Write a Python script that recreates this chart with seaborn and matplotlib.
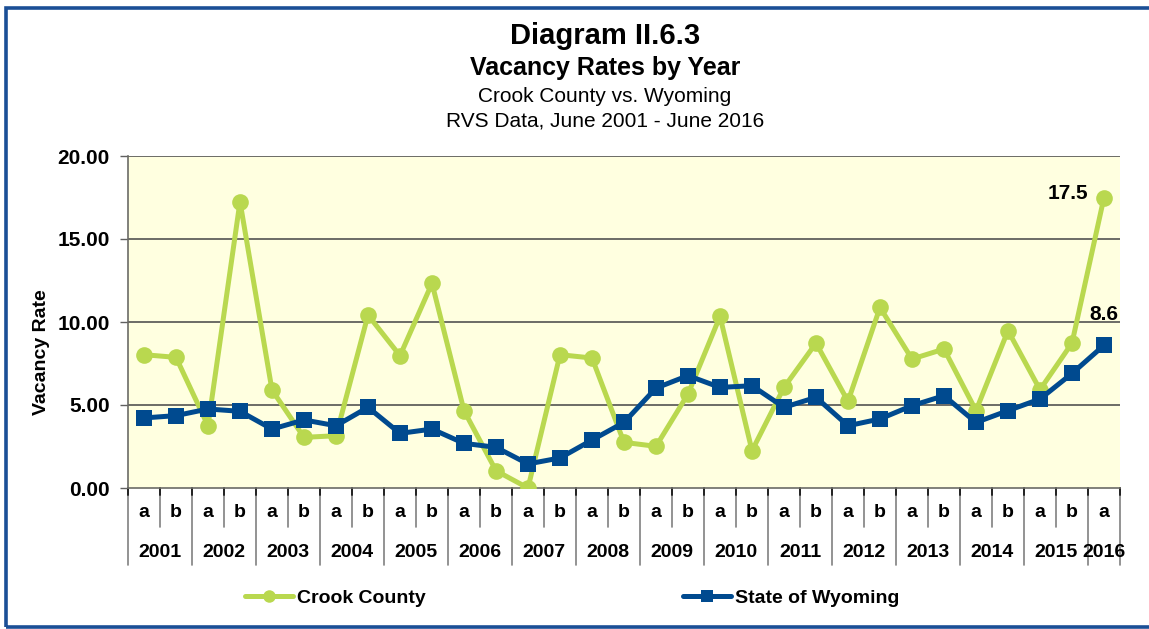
import matplotlib
matplotlib.use("Agg")
import matplotlib.pyplot as plt
import matplotlib.patches as patches
from matplotlib.transforms import blended_transform_factory
import numpy as np
import pandas as pd
import seaborn as sns

years = ["2001", "2002", "2003", "2004", "2005", "2006", "2007", "2008",
         "2009", "2010", "2011", "2012", "2013", "2014", "2015", "2016"]
halves = ["a", "b"] * 15 + ["a"]
crook = [8.03, 7.87, 3.75, 17.25, 5.90, 3.05, 3.15, 10.42, 7.97, 12.33,
         4.66, 1.04, 0.00, 8.03, 7.83, 2.75, 2.51, 5.66, 10.34, 2.25,
         6.06, 8.73, 5.22, 10.88, 7.77, 8.37, 4.66, 9.48, 5.92, 8.73, 17.50]
wyoming = [4.22, 4.36, 4.76, 4.62, 3.55, 4.10, 3.75, 4.86, 3.29, 3.55,
           2.69, 2.45, 1.45, 1.81, 2.89, 3.95, 6.02, 6.77, 6.06, 6.16,
           4.86, 5.46, 3.75, 4.16, 4.96, 5.56, 3.95, 4.66, 5.36, 6.90, 8.60]
yticks = [0, 5, 10, 15, 20]

GREEN = "#B9D84F"
BLUE = "#004A8F"
BORDER = "#1B4F96"

sns.set_theme(style="white")
plt.rcParams['font.family'] = ['Liberation Sans', 'DejaVu Sans']
plt.rcParams['text.color'] = 'black'
plt.rcParams['ytick.color'] = 'black'

df = pd.DataFrame({"idx": np.arange(len(crook)), "crook": crook, "wyoming": wyoming})

fig = plt.figure(figsize=(11.49, 6.29), dpi=100)
W, H = 1149, 629
ax = fig.add_axes([128 / W, 1 - 488 / H, (1120 - 128) / W, (488 - 156) / H])
ax.set_facecolor("#FFFFE0")

sns.lineplot(data=df, x="idx", y="crook", ax=ax, color=GREEN, linewidth=3.6,
             marker="o", markersize=12, markeredgewidth=0, label="Crook County", zorder=3)
sns.lineplot(data=df, x="idx", y="wyoming", ax=ax, color=BLUE, linewidth=3.6,
             marker="s", markersize=12, markeredgewidth=0, label="State of Wyoming", zorder=4)

ax.set_xlim(-0.5, len(crook) - 0.5)
ax.set_ylim(0, 20)
ax.set_yticks(yticks)
ax.set_yticklabels([f"{v:.2f}" for v in yticks], fontsize=15, fontweight="bold")
ax.tick_params(axis="y", direction="out", length=6, width=1, color="#606060", pad=7, left=True)
ax.set_xticks([])
ax.set_xlabel("")
ax.set_ylabel("")
for y in yticks[1:]:
    ax.axhline(y, color="#6b6b66", linewidth=1.4, zorder=1)
for side in ["top", "right"]:
    ax.spines[side].set_visible(False)
ax.spines["left"].set_color("#6b6b66")
ax.spines["left"].set_linewidth(1.2)
ax.spines["bottom"].set_color("#6b6b66")
ax.spines["bottom"].set_linewidth(1.2)

# data labels on the last point
ax.annotate("17.5", (len(crook) - 1, crook[-1]), xytext=(-11, 3), textcoords="offset points",
            ha="right", va="center", fontsize=15, fontweight="bold")
ax.annotate("8.6", (len(wyoming) - 1, wyoming[-1]), xytext=(0, 22), textcoords="offset points",
            ha="center", va="center", fontsize=15, fontweight="bold")

# two-level category axis
trans = blended_transform_factory(ax.transData, ax.transAxes)
for i, h in enumerate(halves):
    ax.text(i, -0.075, h, transform=trans, ha="center", va="center", fontsize=14, fontweight="bold")
pos = 0
for yr in years:
    n = 2 if yr != "2016" else 1
    ax.text(pos + (n - 1) / 2, -0.193, yr, transform=trans, ha="center", va="center",
            fontsize=14, fontweight="bold")
    ax.plot([pos - 0.5, pos - 0.5], [0, -0.232], transform=trans, color="#808080",
            linewidth=1.2, clip_on=False)
    if n == 2:
        ax.plot([pos + 0.5, pos + 0.5], [0, -0.1175], transform=trans, color="#808080",
                linewidth=1.2, clip_on=False)
    pos += n
ax.plot([pos - 0.5, pos - 0.5], [0, -0.232], transform=trans, color="#808080",
        linewidth=1.2, clip_on=False)
for b in np.arange(-0.5, len(crook), 1.0):
    ax.plot([b, b], [0, -0.02], transform=trans, color="#222222", linewidth=1.4, clip_on=False)

# legend at the bottom
handles, labels = ax.get_legend_handles_labels()
ax.get_legend().remove()
leg = fig.legend(handles, labels, loc="center", bbox_to_anchor=(572 / W, 1 - 598 / H), ncol=2,
                 frameon=False, handlelength=2.5, handletextpad=0.2, columnspacing=13.2,
                 prop={"size": 14, "weight": "bold"})
for lh in leg.legend_handles:
    lh.set_markersize(9)

# titles
fig.text(605 / W, 1 - 36 / H, "Diagram II.6.3", ha="center", va="center", fontsize=21, fontweight="bold")
fig.text(605 / W, 1 - 68 / H, "Vacancy Rates by Year", ha="center", va="center", fontsize=18, fontweight="bold")
fig.text(605 / W, 1 - 96 / H, "Crook County vs. Wyoming", ha="center", va="center", fontsize=15)
fig.text(605 / W, 1 - 121 / H, "RVS Data, June 2001 - June 2016", ha="center", va="center", fontsize=15)
fig.text(42 / W, 1 - 352 / H, "Vacancy Rate", ha="center", va="center", rotation=90,
         fontsize=14, fontweight="bold")

# blue frame around the chart
fig.patches.append(patches.Rectangle((5.5 / W, 1 - 626.5 / H), 1.2, (626.5 - 7.5) / H,
                                     transform=fig.transFigure, fill=False,
                                     edgecolor=BORDER, linewidth=2.6))

fig.savefig("out.png", dpi=100)
